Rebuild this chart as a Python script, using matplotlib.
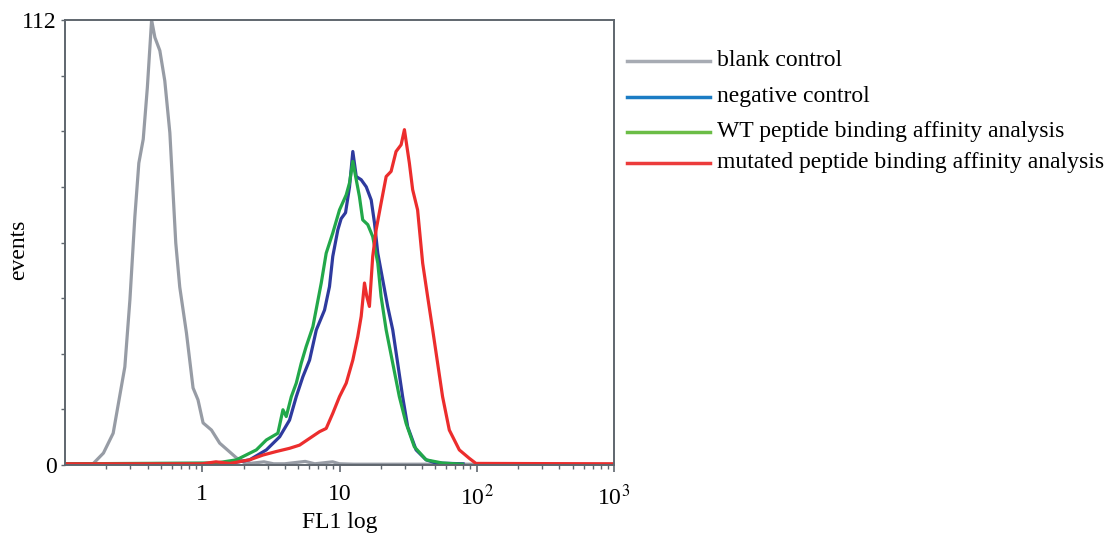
import numpy as np
import matplotlib
matplotlib.use("Agg")
import matplotlib.pyplot as plt
from matplotlib.lines import Line2D
from matplotlib.ticker import FixedLocator, FuncFormatter, LogLocator, NullFormatter

plt.rcParams['font.family'] = ['Liberation Serif', 'DejaVu Serif']
plt.rcParams['mathtext.fontset'] = 'stix'

# ---- data (x as log10 of FL1, y as events) ----
blank_log = [-1.0, -0.796, -0.72, -0.649, -0.564, -0.527, -0.491, -0.462, -0.43, -0.40, -0.369,
             -0.345, -0.309, -0.273, -0.236, -0.193, -0.164, -0.115, -0.067, -0.031, 0.006,
             0.067, 0.127, 0.249, 0.321, 0.45, 0.52, 0.60, 0.75, 0.82, 0.95, 1.0, 1.1, 3.0]
blank_ev = [0.3, 0.3, 3, 8, 24.7, 41.6, 62.5, 76, 82, 95, 112,
            107.6, 104.3, 96.7, 83.6, 55.9, 44.8, 33.2, 19.4, 16.4, 10.6,
            8.8, 5.5, 1.8, 0.3, 0.8, 0.3, 0.3, 0.9, 0.3, 0.8, 0.3, 0.2, 0.2]

neg_log = [-1.0, 0.2, 0.345, 0.467, 0.564, 0.636, 0.685, 0.733, 0.782, 0.831, 0.891, 0.927,
           0.951, 0.988, 1.012, 1.044, 1.073, 1.097, 1.122, 1.158, 1.195, 1.231, 1.255,
           1.279, 1.315, 1.351, 1.388, 1.424, 1.460, 1.497, 1.558, 1.631, 1.703, 1.9]
neg_ev = [0.3, 0.4, 1.3, 3.8, 7.1, 11.3, 17.2, 22.2, 26.4, 34, 39, 44.9,
          52.5, 59.2, 62, 63.5, 70, 78.9, 72.6, 71.8, 70, 66.7, 60.9,
          53.3, 46.6, 39.9, 34, 25.6, 17.2, 9.6, 3.8, 1.3, 0.5, 0.3]

wt_log = [-1.0, 0.1, 0.249, 0.394, 0.467, 0.551, 0.588, 0.612, 0.649, 0.685, 0.721, 0.757,
          0.806, 0.867, 0.903, 0.951, 1.0, 1.049, 1.073, 1.097, 1.122, 1.145, 1.169,
          1.206, 1.242, 1.279, 1.303, 1.34, 1.388, 1.436, 1.485, 1.545, 1.631, 1.75, 1.895]
wt_ev = [0.3, 0.5, 1.3, 3.8, 6.3, 8, 13.9, 12.2, 17.2, 20.6, 25.6, 29.8,
         34.8, 45.8, 53.3, 58.4, 64.2, 68, 71, 76.4, 71.8, 67.6, 61.7,
         60.5, 57.5, 50.8, 42.4, 34, 25.6, 17.2, 10.5, 4.6, 1.3, 0.5, 0.2]

mut_log = [-1.0, 0.0, 0.1, 0.2, 0.345, 0.442, 0.54, 0.636, 0.709, 0.782, 0.855, 0.903, 0.951,
           1.0, 1.049, 1.097, 1.133, 1.158, 1.182, 1.199, 1.218, 1.242, 1.267, 1.303,
           1.34, 1.376, 1.412, 1.449, 1.473, 1.509, 1.533, 1.569, 1.606, 1.642, 1.679,
           1.715, 1.751, 1.8, 1.873, 1.945, 1.994, 3.0]
mut_ev = [0.3, 0.3, 0.8, 0.4, 1.3, 2.5, 3.4, 4.2, 5, 6.7, 8.4, 9.2, 13,
          17.2, 20.6, 26.4, 32.3, 37.4, 45.8, 42.4, 39.9, 52.5, 59.2, 65.9,
          72.6, 73.9, 78.9, 80.6, 84.4, 76, 69.3, 64.2, 50.8, 42.4, 34,
          25.6, 17.2, 8.8, 3.8, 1.7, 0.4, 0.3]

labels = ["blank control", "negative control",
          "WT peptide binding affinity analysis",
          "mutated peptide binding affinity analysis"]
curve_colors = ["#979ca5", "#2e3a9e", "#22a84a", "#ec2d2d"]
legend_colors = ["#a7abb3", "#1b7cc4", "#6bbd46", "#ec3b3b"]

y_ticks = list(range(0, 113, 14))
y_labeled = [0, 112]

# ---- figure ----
fig = plt.figure(figsize=(11.12, 5.33), dpi=100)
ax = fig.add_axes([65/1112, 1-465/533, (614-65)/1112, (465-20)/533])

series = [(blank_log, blank_ev), (neg_log, neg_ev), (wt_log, wt_ev), (mut_log, mut_ev)]
for (lx, ev), c in zip(series, curve_colors):
    ax.plot(10**np.array(lx), ev, color=c, lw=2.3, solid_joinstyle='round')

ax.set_xscale('log')
ax.set_xlim(0.1, 1000)
ax.set_ylim(0, 112)

ax.xaxis.set_major_locator(FixedLocator([1, 10, 100, 1000]))
ax.xaxis.set_major_formatter(FuncFormatter(
    lambda v, p: {1: "1", 10: "10", 100: r"10$^2$", 1000: r"10$^3$"}.get(int(round(v)), "")))
ax.xaxis.set_minor_locator(LogLocator(base=10, subs=np.arange(2, 10)))
ax.xaxis.set_minor_formatter(NullFormatter())
ax.yaxis.set_major_locator(FixedLocator(y_ticks))
ax.yaxis.set_major_formatter(FuncFormatter(lambda v, p: f"{int(v)}" if int(v) in y_labeled else ""))

spine_c = "#5f666e"
for s in ax.spines.values():
    s.set_color(spine_c)
    s.set_linewidth(1.4)
ax.tick_params(axis='x', which='major', direction='out', length=5, width=1.2, color=spine_c,
               labelsize=17, pad=9)
ax.tick_params(axis='x', which='minor', direction='out', length=3, width=1.0, color=spine_c)
ax.tick_params(axis='y', which='major', direction='out', length=3, width=1.0, color=spine_c,
               labelsize=17, pad=3)

ax.set_xlabel("FL1 log", fontsize=17)
ax.xaxis.set_label_coords(0.5, -0.105)
ax.set_ylabel("events", fontsize=17)
ax.yaxis.set_label_coords(-0.066, 0.483)

# ---- legend (drawn outside the axes) ----
rows_y = [61, 97, 132, 163]
for lab, c, yy in zip(labels, legend_colors, rows_y):
    yf = 1 - yy/533
    fig.add_artist(Line2D([627/1112, 710/1112], [yf, yf], color=c, lw=2.5,
                          transform=fig.transFigure))
    fig.text(717/1112, 1 - (yy + 5)/533, lab, fontsize=17, va='baseline', ha='left')

fig.savefig("out.png", dpi=100)
